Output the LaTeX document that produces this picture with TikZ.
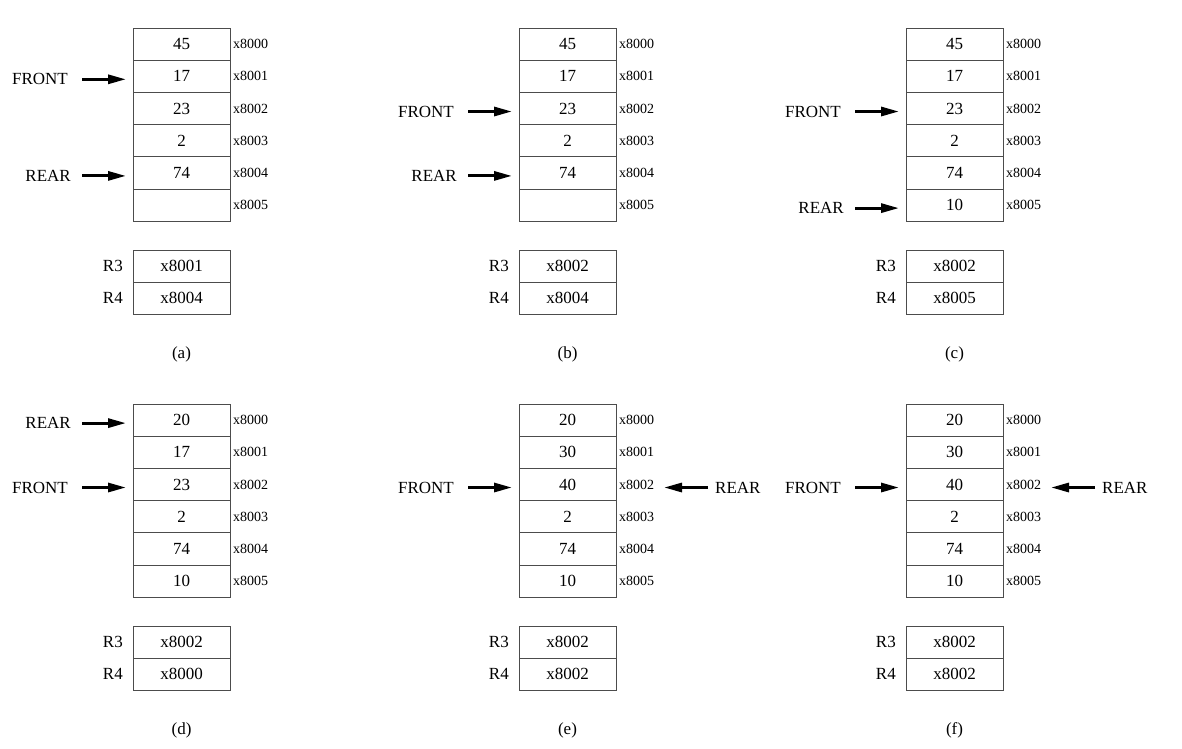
\documentclass[tikz,border=0pt]{standalone}
\usepackage{fontspec}
\setmainfont{Liberation Serif}
\usetikzlibrary{arrows.meta}

\tikzset{
  txt/.style={font=\fontsize{17}{20}\selectfont},
  cell/.style={txt, draw=black!70, line width=0.9pt, minimum width=97pt,
    minimum height=32.2pt, inner sep=0pt, outer sep=0pt, anchor=north west},
  regcell/.style={cell, minimum height=32pt},
  addr/.style={anchor=west, inner sep=0pt, font=\fontsize{14}{16}\selectfont},
  lbl/.style={txt, inner sep=0pt},
  ptr/.style={line width=3pt, -{Triangle[length=18pt,width=9pt]}},
}

% memory column (six cells with addresses), registers R3/R4 and caption
% #1 name, #2 left x, #3 top y, #4 cell values, #5 R3 value, #6 R4 value
\newcommand\mempanel[6]{%
  \foreach \v [count=\i from 0] in {#4} {
    \node[cell] (#1-m\i) at (#2,{#3+\i*32.2}) {\v};
    \pgfmathtruncatemacro\addrnum{8000+\i}
    \node[addr] (#1-ad\i) at ([xshift=3pt]#1-m\i.east) {x\addrnum};
  }
  \node[regcell] (#1-r3) at (#2,{#3+222}) {#5};
  \node[regcell] (#1-r4) at (#2,{#3+254}) {#6};
  \node[lbl, anchor=east] (#1-l3) at ([xshift=-10pt]#1-r3.west) {R3};
  \node[lbl, anchor=east] (#1-l4) at ([xshift=-10pt]#1-r4.west) {R4};
  \node[lbl] (#1-cap) at ({#2+48.5},{#3+326}) {(#1)};
}

% pointer from the left: #1 panel, #2 row, #3 label, #4 gap label-to-arrow
\newcommand\lptr[4]{%
  \node[lbl, anchor=east] (#1-#3) at ([xshift={-(51+#4)}, yshift=-3]#1-m#2.west) {#3};
  \draw[ptr, shorten <=#4pt, shorten >=7pt] (#1-#3.east) -- (#1-#3.east -| #1-m#2.west);
}

% pointer from the right: #1 panel, #2 row, #3 label
\newcommand\rptr[3]{%
  \node[lbl, anchor=west] (#1-#3) at ([xshift=99, yshift=-3]#1-m#2.east) {#3};
  \draw[ptr, shorten <=7pt, shorten >=48pt] (#1-#3.west) -- (#1-#3.west -| #1-m#2.east);
}

\begin{document}
\begin{tikzpicture}[x=1pt, y=-1pt]
  \useasboundingbox (0,0) rectangle (1182,748);

  \mempanel{a}{133}{28}{45,17,23,2,74,{}}{x8001}{x8004}
  \lptr{a}{1}{FRONT}{14}
  \lptr{a}{4}{REAR}{11}

  \mempanel{b}{519}{28}{45,17,23,2,74,{}}{x8002}{x8004}
  \lptr{b}{2}{FRONT}{14}
  \lptr{b}{4}{REAR}{11}

  \mempanel{c}{906}{28}{45,17,23,2,74,10}{x8002}{x8005}
  \lptr{c}{2}{FRONT}{14}
  \lptr{c}{5}{REAR}{11}

  \mempanel{d}{133}{404}{20,17,23,2,74,10}{x8002}{x8000}
  \lptr{d}{0}{REAR}{11}
  \lptr{d}{2}{FRONT}{14}

  \mempanel{e}{519}{404}{20,30,40,2,74,10}{x8002}{x8002}
  \lptr{e}{2}{FRONT}{14}
  \rptr{e}{2}{REAR}

  \mempanel{f}{906}{404}{20,30,40,2,74,10}{x8002}{x8002}
  \lptr{f}{2}{FRONT}{14}
  \rptr{f}{2}{REAR}
\end{tikzpicture}
\end{document}
